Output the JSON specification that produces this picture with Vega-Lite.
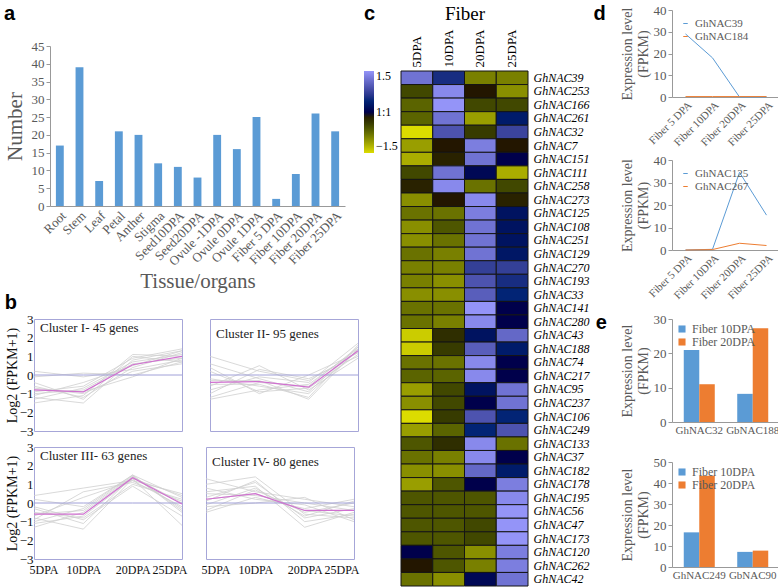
{
"$schema": "https://vega.github.io/schema/vega-lite/v6.json",
"padding": {"left": 3, "top": 3, "right": 3, "bottom": 3},
"background": "white",
"config": {
  "font": "Liberation Serif",
  "view": {"stroke": null},
  "axis": {"labelFont": "Liberation Serif", "titleFont": "Liberation Serif", "titleFontWeight": "normal", "grid": false, "labelColor": "#595959", "titleColor": "#595959", "domainColor": "#999999", "tickColor": "#999999"},
  "legend": {"labelFont": "Liberation Serif", "labelColor": "#595959"},
  "title": {"font": "Liberation Sans", "fontSize": 20, "fontWeight": "bold", "anchor": "start", "frame": "bounds", "color": "#000000"}
},
"datasets": {
  "tissue": [
    {"tissue": "Root", "n": 17}, {"tissue": "Stem", "n": 39}, {"tissue": "Leaf", "n": 7}, {"tissue": "Petal", "n": 21},
    {"tissue": "Anther", "n": 20}, {"tissue": "Stigma", "n": 12}, {"tissue": "Seed10DPA", "n": 11}, {"tissue": "Seed20DPA", "n": 8},
    {"tissue": "Ovule -1DPA", "n": 20}, {"tissue": "Ovule 0DPA", "n": 16}, {"tissue": "Ovule 1DPA", "n": 25}, {"tissue": "Fiber 5 DPA", "n": 2},
    {"tissue": "Fiber 10DPA", "n": 9}, {"tissue": "Fiber 20DPA", "n": 26}, {"tissue": "Fiber 25DPA", "n": 21}
  ],
  "clusters": [
    {"c": "I", "g": "1", "5DPA": 0.2, "10DPA": -0.1, "20DPA": 0.3, "25DPA": 0.8},
    {"c": "I", "g": "2", "5DPA": -0.1, "10DPA": 0.1, "20DPA": 0.0, "25DPA": 0.7},
    {"c": "I", "g": "3", "5DPA": -1.5, "10DPA": -1.1, "20DPA": 1.1, "25DPA": 1.0},
    {"c": "I", "g": "4", "5DPA": -1.2, "10DPA": -1.5, "20DPA": 0.8, "25DPA": 1.3},
    {"c": "I", "g": "5", "5DPA": -0.9, "10DPA": -0.6, "20DPA": 0.9, "25DPA": 1.4},
    {"c": "I", "g": "6", "5DPA": -0.6, "10DPA": -1.2, "20DPA": 0.4, "25DPA": 1.2},
    {"c": "I", "g": "7", "5DPA": -1.0, "10DPA": -0.8, "20DPA": 0.6, "25DPA": 0.9},
    {"c": "I", "g": "8", "5DPA": -0.7, "10DPA": -1.0, "20DPA": 0.2, "25DPA": 0.6},
    {"c": "I", "g": "9", "5DPA": -1.3, "10DPA": -0.7, "20DPA": 0.7, "25DPA": 1.1},
    {"c": "I", "g": "10", "5DPA": -0.4, "10DPA": -1.3, "20DPA": 1.0, "25DPA": 0.7},
    {"c": "I", "g": "11", "5DPA": -1.1, "10DPA": -0.4, "20DPA": 0.5, "25DPA": 1.3},
    {"c": "I", "g": "12", "5DPA": -0.8, "10DPA": -0.9, "20DPA": -0.1, "25DPA": 0.9},
    {"c": "I", "g": "zero", "5DPA": 0, "10DPA": 0, "20DPA": 0, "25DPA": 0},
    {"c": "I", "g": "mean", "5DPA": -0.8, "10DPA": -0.9, "20DPA": 0.55, "25DPA": 1.0},
    {"c": "II", "g": "1", "5DPA": 1.0, "10DPA": 0.2, "20DPA": -0.3, "25DPA": 1.2},
    {"c": "II", "g": "2", "5DPA": 0.6, "10DPA": -0.2, "20DPA": -0.9, "25DPA": 1.5},
    {"c": "II", "g": "3", "5DPA": -1.3, "10DPA": -0.8, "20DPA": -0.5, "25DPA": 1.4},
    {"c": "II", "g": "4", "5DPA": -1.0, "10DPA": 0.3, "20DPA": -0.2, "25DPA": 1.0},
    {"c": "II", "g": "5", "5DPA": -0.5, "10DPA": -0.5, "20DPA": -1.2, "25DPA": 1.6},
    {"c": "II", "g": "6", "5DPA": 0.2, "10DPA": -0.9, "20DPA": -0.7, "25DPA": 1.1},
    {"c": "II", "g": "7", "5DPA": -0.8, "10DPA": -0.1, "20DPA": -0.4, "25DPA": 1.7},
    {"c": "II", "g": "8", "5DPA": -0.2, "10DPA": -0.6, "20DPA": -1.0, "25DPA": 1.3},
    {"c": "II", "g": "9", "5DPA": -0.6, "10DPA": 0.5, "20DPA": -0.8, "25DPA": 0.9},
    {"c": "II", "g": "10", "5DPA": 0.4, "10DPA": -1.0, "20DPA": 0.0, "25DPA": 1.2},
    {"c": "II", "g": "11", "5DPA": -1.2, "10DPA": -0.4, "20DPA": -0.6, "25DPA": 1.5},
    {"c": "II", "g": "12", "5DPA": -0.3, "10DPA": -0.3, "20DPA": -1.3, "25DPA": 1.4},
    {"c": "II", "g": "zero", "5DPA": 0, "10DPA": 0, "20DPA": 0, "25DPA": 0},
    {"c": "II", "g": "mean", "5DPA": -0.4, "10DPA": -0.35, "20DPA": -0.65, "25DPA": 1.3},
    {"c": "III", "g": "1", "5DPA": 0.4, "10DPA": 0.8, "20DPA": 1.2, "25DPA": 0.5},
    {"c": "III", "g": "2", "5DPA": 0.2, "10DPA": -0.2, "20DPA": 1.5, "25DPA": 0.3},
    {"c": "III", "g": "3", "5DPA": -1.3, "10DPA": -0.5, "20DPA": 1.4, "25DPA": -0.3},
    {"c": "III", "g": "4", "5DPA": -0.8, "10DPA": -1.4, "20DPA": 1.3, "25DPA": -1.2},
    {"c": "III", "g": "5", "5DPA": -0.5, "10DPA": -0.8, "20DPA": 1.0, "25DPA": 0.2},
    {"c": "III", "g": "6", "5DPA": -1.0, "10DPA": -0.3, "20DPA": 1.5, "25DPA": -0.5},
    {"c": "III", "g": "7", "5DPA": -0.3, "10DPA": -1.1, "20DPA": 1.4, "25DPA": 0.0},
    {"c": "III", "g": "8", "5DPA": -0.7, "10DPA": 0.3, "20DPA": 1.2, "25DPA": -0.2},
    {"c": "III", "g": "9", "5DPA": -1.1, "10DPA": -0.7, "20DPA": 1.3, "25DPA": 0.4},
    {"c": "III", "g": "10", "5DPA": -0.2, "10DPA": -0.9, "20DPA": 0.9, "25DPA": -0.7},
    {"c": "III", "g": "11", "5DPA": -0.9, "10DPA": 0.6, "20DPA": 1.1, "25DPA": 0.1},
    {"c": "III", "g": "12", "5DPA": -0.6, "10DPA": -0.4, "20DPA": 1.45, "25DPA": -0.4},
    {"c": "III", "g": "zero", "5DPA": 0, "10DPA": 0, "20DPA": 0, "25DPA": 0},
    {"c": "III", "g": "mean", "5DPA": -0.6, "10DPA": -0.6, "20DPA": 1.35, "25DPA": -0.05},
    {"c": "IV", "g": "1", "5DPA": 1.3, "10DPA": 0.6, "20DPA": 0.2, "25DPA": -0.2},
    {"c": "IV", "g": "2", "5DPA": 1.0, "10DPA": 1.4, "20DPA": -0.6, "25DPA": -0.8},
    {"c": "IV", "g": "3", "5DPA": -0.5, "10DPA": 0.3, "20DPA": -0.3, "25DPA": 0.2},
    {"c": "IV", "g": "4", "5DPA": 0.6, "10DPA": 0.9, "20DPA": -1.3, "25DPA": -0.5},
    {"c": "IV", "g": "5", "5DPA": -0.2, "10DPA": 0.0, "20DPA": 0.3, "25DPA": -0.9},
    {"c": "IV", "g": "6", "5DPA": 0.3, "10DPA": 1.1, "20DPA": -0.8, "25DPA": -0.3},
    {"c": "IV", "g": "7", "5DPA": 0.8, "10DPA": 0.2, "20DPA": -0.1, "25DPA": -1.0},
    {"c": "IV", "g": "8", "5DPA": -0.4, "10DPA": 0.7, "20DPA": -0.5, "25DPA": 0.0},
    {"c": "IV", "g": "9", "5DPA": 0.1, "10DPA": 1.2, "20DPA": -1.0, "25DPA": -0.6},
    {"c": "IV", "g": "10", "5DPA": 0.5, "10DPA": 0.4, "20DPA": 0.0, "25DPA": -0.4},
    {"c": "IV", "g": "11", "5DPA": -0.1, "10DPA": 0.8, "20DPA": -0.7, "25DPA": 0.1},
    {"c": "IV", "g": "12", "5DPA": 0.2, "10DPA": 0.5, "20DPA": -0.4, "25DPA": -0.7},
    {"c": "IV", "g": "zero", "5DPA": 0, "10DPA": 0, "20DPA": 0, "25DPA": 0},
    {"c": "IV", "g": "mean", "5DPA": 0.2, "10DPA": 0.5, "20DPA": -0.4, "25DPA": -0.4}
  ],
  "heat": [
    {"g": "GhNAC39", "5DPA": 1.2, "10DPA": 0.5, "20DPA": -0.9, "25DPA": -0.9},
    {"g": "GhNAC253", "5DPA": -0.5, "10DPA": 1.4, "20DPA": -0.1, "25DPA": -1.0},
    {"g": "GhNAC166", "5DPA": -0.7, "10DPA": 1.5, "20DPA": -0.5, "25DPA": -0.5},
    {"g": "GhNAC261", "5DPA": -0.7, "10DPA": 1.2, "20DPA": -1.1, "25DPA": 0.3},
    {"g": "GhNAC32", "5DPA": -1.5, "10DPA": 0.9, "20DPA": -0.4, "25DPA": 0.75},
    {"g": "GhNAC7", "5DPA": -1.1, "10DPA": -0.1, "20DPA": 1.3, "25DPA": -0.1},
    {"g": "GhNAC151", "5DPA": -1.2, "10DPA": -0.2, "20DPA": 1.2, "25DPA": 0.0},
    {"g": "GhNAC111", "5DPA": -0.5, "10DPA": 1.2, "20DPA": 0.1, "25DPA": -1.2},
    {"g": "GhNAC258", "5DPA": -0.2, "10DPA": 1.4, "20DPA": -0.8, "25DPA": -0.5},
    {"g": "GhNAC273", "5DPA": -1.0, "10DPA": -0.1, "20DPA": 1.4, "25DPA": -0.2},
    {"g": "GhNAC125", "5DPA": -0.8, "10DPA": -0.8, "20DPA": 1.3, "25DPA": 0.2},
    {"g": "GhNAC108", "5DPA": -1.0, "10DPA": -0.6, "20DPA": 1.2, "25DPA": 0.2},
    {"g": "GhNAC251", "5DPA": -1.0, "10DPA": -0.8, "20DPA": 1.2, "25DPA": 0.2},
    {"g": "GhNAC129", "5DPA": -0.8, "10DPA": -0.9, "20DPA": 1.2, "25DPA": 0.25},
    {"g": "GhNAC270", "5DPA": -0.9, "10DPA": -0.9, "20DPA": 0.7, "25DPA": 0.7},
    {"g": "GhNAC193", "5DPA": -0.9, "10DPA": -1.0, "20DPA": 0.9, "25DPA": 0.5},
    {"g": "GhNAC33", "5DPA": -1.0, "10DPA": -1.0, "20DPA": 1.0, "25DPA": 0.4},
    {"g": "GhNAC141", "5DPA": -0.8, "10DPA": -0.8, "20DPA": 1.5, "25DPA": 0.0},
    {"g": "GhNAC280", "5DPA": -0.8, "10DPA": -0.9, "20DPA": 1.4, "25DPA": 0.0},
    {"g": "GhNAC43", "5DPA": -1.4, "10DPA": -0.3, "20DPA": 0.2, "25DPA": 1.1},
    {"g": "GhNAC188", "5DPA": -1.4, "10DPA": -0.4, "20DPA": 1.0, "25DPA": 0.3},
    {"g": "GhNAC74", "5DPA": -0.8, "10DPA": -0.8, "20DPA": 1.4, "25DPA": 0.0},
    {"g": "GhNAC217", "5DPA": -0.7, "10DPA": -0.7, "20DPA": 1.4, "25DPA": 0.0},
    {"g": "GhNAC95", "5DPA": -1.1, "10DPA": -0.5, "20DPA": 0.2, "25DPA": 1.2},
    {"g": "GhNAC237", "5DPA": -1.0, "10DPA": -0.5, "20DPA": 0.0, "25DPA": 1.2},
    {"g": "GhNAC106", "5DPA": -1.5, "10DPA": -0.4, "20DPA": 0.9, "25DPA": 0.4},
    {"g": "GhNAC249", "5DPA": -1.1, "10DPA": -0.7, "20DPA": 0.4, "25DPA": 0.9},
    {"g": "GhNAC133", "5DPA": -0.6, "10DPA": -0.3, "20DPA": 1.4, "25DPA": -0.8},
    {"g": "GhNAC37", "5DPA": -0.8, "10DPA": -0.9, "20DPA": 1.4, "25DPA": 0.0},
    {"g": "GhNAC182", "5DPA": -1.0, "10DPA": -1.0, "20DPA": 1.1, "25DPA": 0.3},
    {"g": "GhNAC178", "5DPA": -1.1, "10DPA": -0.6, "20DPA": 0.0, "25DPA": 1.3},
    {"g": "GhNAC195", "5DPA": -0.6, "10DPA": -0.6, "20DPA": -0.6, "25DPA": 1.4},
    {"g": "GhNAC56", "5DPA": -0.6, "10DPA": -0.6, "20DPA": -0.6, "25DPA": 1.5},
    {"g": "GhNAC47", "5DPA": -0.6, "10DPA": -0.6, "20DPA": -0.5, "25DPA": 1.5},
    {"g": "GhNAC173", "5DPA": -0.6, "10DPA": -0.6, "20DPA": -0.5, "25DPA": 1.5},
    {"g": "GhNAC120", "5DPA": 0.0, "10DPA": -0.6, "20DPA": -1.0, "25DPA": 1.3},
    {"g": "GhNAC262", "5DPA": -0.1, "10DPA": -0.6, "20DPA": -0.9, "25DPA": 1.3},
    {"g": "GhNAC42", "5DPA": -0.8, "10DPA": -1.0, "20DPA": 0.1, "25DPA": 1.2}
  ],
  "d1": [
    {"gene": "GhNAC39", "s": "Fiber 5 DPA", "v": 29}, {"gene": "GhNAC39", "s": "Fiber 10DPA", "v": 18},
    {"gene": "GhNAC39", "s": "Fiber 20DPA", "v": 0}, {"gene": "GhNAC39", "s": "Fiber 25DPA", "v": 0},
    {"gene": "GhNAC184", "s": "Fiber 5 DPA", "v": 0.2}, {"gene": "GhNAC184", "s": "Fiber 10DPA", "v": 0.2},
    {"gene": "GhNAC184", "s": "Fiber 20DPA", "v": 0.2}, {"gene": "GhNAC184", "s": "Fiber 25DPA", "v": 0.2}
  ],
  "d2": [
    {"gene": "GhNAC125", "s": "Fiber 5 DPA", "v": 0}, {"gene": "GhNAC125", "s": "Fiber 10DPA", "v": 0.3},
    {"gene": "GhNAC125", "s": "Fiber 20DPA", "v": 34.5}, {"gene": "GhNAC125", "s": "Fiber 25DPA", "v": 15.5},
    {"gene": "GhNAC267", "s": "Fiber 5 DPA", "v": 0}, {"gene": "GhNAC267", "s": "Fiber 10DPA", "v": 0.2},
    {"gene": "GhNAC267", "s": "Fiber 20DPA", "v": 3}, {"gene": "GhNAC267", "s": "Fiber 25DPA", "v": 2}
  ],
  "e1": [
    {"gene": "GhNAC32", "stage": "Fiber 10DPA", "v": 21}, {"gene": "GhNAC32", "stage": "Fiber 20DPA", "v": 11},
    {"gene": "GbNAC188", "stage": "Fiber 10DPA", "v": 8.2}, {"gene": "GbNAC188", "stage": "Fiber 20DPA", "v": 27.3}
  ],
  "e2": [
    {"gene": "GhNAC249", "stage": "Fiber 10DPA", "v": 16.5}, {"gene": "GhNAC249", "stage": "Fiber 20DPA", "v": 43.5},
    {"gene": "GbNAC90", "stage": "Fiber 10DPA", "v": 7.2}, {"gene": "GbNAC90", "stage": "Fiber 20DPA", "v": 7.8}
  ]
},
"resolve": {"scale": {"color": "independent", "xOffset": "independent"}, "legend": {"color": "independent"}},
"spacing": 3,
"hconcat": [
  {
    "resolve": {"scale": {"color": "independent"}, "legend": {"color": "independent"}},
    "spacing": 0,
    "vconcat": [
      {"width": 1, "height": 1, "data": {"values": []}, "mark": {"type": "point", "opacity": 0}},
      {
        "spacing": 0,
        "hconcat": [
          {"width": 1, "height": 1, "data": {"values": []}, "mark": {"type": "point", "opacity": 0}},
          {
            "title": {"text": "a", "offset": 16},
            "width": 295, "height": 160,
            "data": {"name": "tissue"},
            "mark": {"type": "bar", "color": "#5B9BD5"},
            "encoding": {
              "x": {"field": "tissue", "type": "nominal", "sort": null, "title": "Tissue/organs",
                    "scale": {"paddingInner": 0.6, "paddingOuter": 0.3},
                    "axis": {"labelAngle": -45, "labelFontSize": 13, "titleFontSize": 21, "ticks": false, "labelPadding": 3, "titlePadding": 2}},
              "y": {"field": "n", "type": "quantitative", "scale": {"domain": [0, 45]}, "title": "Number",
                    "axis": {"values": [0, 5, 10, 15, 20, 25, 30, 35, 40, 45], "titleFontSize": 21, "labelFontSize": 13, "tickSize": 4, "titlePadding": 6, "labelOverlap": false}}
            }
          }
        ]
      },
      {
        "spacing": 0,
        "hconcat": [
          {"width": 1, "height": 1, "data": {"values": []}, "mark": {"type": "point", "opacity": 0}},
          {
            "title": {"text": "b", "offset": 0},
            "spacing": 1,
            "vconcat": [
              {
                "spacing": 22,
                "hconcat": [
                  {
                    "width": 148, "height": 112,
                    "view": {"stroke": "#a6a6d8"},
                    "title": {"text": "Cluster I- 45 genes", "anchor": "start", "frame": "group", "offset": -22, "dx": 6, "font": "Liberation Serif", "fontSize": 13, "fontWeight": "normal", "color": "#222222"},
                    "data": {"name": "clusters"},
                    "transform": [{"filter": "datum.c=='I'"}, {"fold": ["5DPA", "10DPA", "20DPA", "25DPA"], "as": ["s", "v"]}],
                    "encoding": {
                      "x": {"field": "s", "type": "ordinal", "sort": ["5DPA", "10DPA", "20DPA", "25DPA"], "scale": {"type": "point", "padding": 0}, "axis": null},
                      "y": {"field": "v", "type": "quantitative", "scale": {"domain": [-3, 3]}, "axis": {"values": [-3, -2, -1, 0, 1, 2, 3], "title": "Log2 (FPKM+1)", "titleFontSize": 14, "titleColor": "#111111", "labelColor": "#111111", "labelFontSize": 13, "domain": false, "ticks": false, "labelPadding": 1, "titlePadding": 0, "minExtent": 0, "labelOverlap": false}}
                    },
                    "layer": [
                      {"transform": [{"filter": "datum.g!='mean' && datum.g!='zero'"}], "mark": {"type": "line", "color": "#cfcfcf", "strokeWidth": 0.8}, "encoding": {"detail": {"field": "g"}}},
                      {"transform": [{"filter": "datum.g=='zero'"}], "mark": {"type": "line", "color": "#a0a0d8", "strokeWidth": 1}, "encoding": {}},
                      {"transform": [{"filter": "datum.g=='mean'"}], "mark": {"type": "line", "color": "#d070d0", "strokeWidth": 1.2}, "encoding": {}}
                    ]
                  },
                  {
                    "width": 148, "height": 112,
                    "view": {"stroke": "#a6a6d8"},
                    "title": {"text": "Cluster II- 95 genes", "anchor": "start", "frame": "group", "offset": -22, "dx": 6, "font": "Liberation Serif", "fontSize": 13, "fontWeight": "normal", "color": "#222222"},
                    "data": {"name": "clusters"},
                    "transform": [{"filter": "datum.c=='II'"}, {"fold": ["5DPA", "10DPA", "20DPA", "25DPA"], "as": ["s", "v"]}],
                    "encoding": {
                      "x": {"field": "s", "type": "ordinal", "sort": ["5DPA", "10DPA", "20DPA", "25DPA"], "scale": {"type": "point", "padding": 0}, "axis": null},
                      "y": {"field": "v", "type": "quantitative", "scale": {"domain": [-3, 3]}, "axis": null}
                    },
                    "layer": [
                      {"transform": [{"filter": "datum.g!='mean' && datum.g!='zero'"}], "mark": {"type": "line", "color": "#cfcfcf", "strokeWidth": 0.8}, "encoding": {"detail": {"field": "g"}}},
                      {"transform": [{"filter": "datum.g=='zero'"}], "mark": {"type": "line", "color": "#a0a0d8", "strokeWidth": 1}, "encoding": {}},
                      {"transform": [{"filter": "datum.g=='mean'"}], "mark": {"type": "line", "color": "#d070d0", "strokeWidth": 1.2}, "encoding": {}}
                    ]
                  }
                ]
              },
              {
                "spacing": 12,
                "hconcat": [
                  {
                    "width": 148, "height": 112,
                    "view": {"stroke": "#a6a6d8"},
                    "title": {"text": "Cluster III- 63 genes", "anchor": "start", "frame": "group", "offset": -22, "dx": 6, "font": "Liberation Serif", "fontSize": 13, "fontWeight": "normal", "color": "#222222"},
                    "data": {"name": "clusters"},
                    "transform": [{"filter": "datum.c=='III'"}, {"fold": ["5DPA", "10DPA", "20DPA", "25DPA"], "as": ["s", "v"]}],
                    "encoding": {
                      "x": {"field": "s", "type": "ordinal", "sort": ["5DPA", "10DPA", "20DPA", "25DPA"], "scale": {"type": "point", "padding": 0}, "axis": {"title": null, "domain": false, "ticks": false, "labelAngle": 0, "labelFontSize": 12, "labelColor": "#111111", "labelPadding": 5, "labelFlush": true, "labelFlushOffset": 5}},
                      "y": {"field": "v", "type": "quantitative", "scale": {"domain": [-3, 3]}, "axis": {"values": [-3, -2, -1, 0, 1, 2, 3], "title": "Log2 (FPKM+1)", "titleFontSize": 14, "titleColor": "#111111", "labelColor": "#111111", "labelFontSize": 13, "domain": false, "ticks": false, "labelPadding": 1, "titlePadding": 0, "minExtent": 0, "labelOverlap": false}}
                    },
                    "layer": [
                      {"transform": [{"filter": "datum.g!='mean' && datum.g!='zero'"}], "mark": {"type": "line", "color": "#cfcfcf", "strokeWidth": 0.8}, "encoding": {"detail": {"field": "g"}}},
                      {"transform": [{"filter": "datum.g=='zero'"}], "mark": {"type": "line", "color": "#a0a0d8", "strokeWidth": 1}, "encoding": {}},
                      {"transform": [{"filter": "datum.g=='mean'"}], "mark": {"type": "line", "color": "#d070d0", "strokeWidth": 1.2}, "encoding": {}}
                    ]
                  },
                  {
                    "width": 148, "height": 112,
                    "view": {"stroke": "#a6a6d8"},
                    "title": {"text": "Cluster IV- 80 genes", "anchor": "start", "frame": "group", "offset": -22, "dx": 6, "font": "Liberation Serif", "fontSize": 13, "fontWeight": "normal", "color": "#222222"},
                    "data": {"name": "clusters"},
                    "transform": [{"filter": "datum.c=='IV'"}, {"fold": ["5DPA", "10DPA", "20DPA", "25DPA"], "as": ["s", "v"]}],
                    "encoding": {
                      "x": {"field": "s", "type": "ordinal", "sort": ["5DPA", "10DPA", "20DPA", "25DPA"], "scale": {"type": "point", "padding": 0}, "axis": {"title": null, "domain": false, "ticks": false, "labelAngle": 0, "labelFontSize": 12, "labelColor": "#111111", "labelPadding": 5, "labelFlush": true, "labelFlushOffset": 5}},
                      "y": {"field": "v", "type": "quantitative", "scale": {"domain": [-3, 3]}, "axis": null}
                    },
                    "layer": [
                      {"transform": [{"filter": "datum.g!='mean' && datum.g!='zero'"}], "mark": {"type": "line", "color": "#cfcfcf", "strokeWidth": 0.8}, "encoding": {"detail": {"field": "g"}}},
                      {"transform": [{"filter": "datum.g=='zero'"}], "mark": {"type": "line", "color": "#a0a0d8", "strokeWidth": 1}, "encoding": {}},
                      {"transform": [{"filter": "datum.g=='mean'"}], "mark": {"type": "line", "color": "#d070d0", "strokeWidth": 1.2}, "encoding": {}}
                    ]
                  }
                ]
              }
            ]
          }
        ]
      }
    ]
  },
  {
    "resolve": {"scale": {"color": "independent"}, "legend": {"color": "independent"}},
    "spacing": 0,
    "vconcat": [
      {"width": 1, "height": 1, "data": {"values": []}, "mark": {"type": "point", "opacity": 0}},
      {
        "title": {"text": "c", "offset": -20},
        "width": 127, "height": 515,
        "data": {"name": "heat"},
        "transform": [{"fold": ["5DPA", "10DPA", "20DPA", "25DPA"], "as": ["s", "v"]}],
        "mark": {"type": "rect", "stroke": "#151515", "strokeWidth": 1},
        "encoding": {
          "x": {"field": "s", "type": "ordinal", "sort": ["5DPA", "10DPA", "20DPA", "25DPA"], "scale": {"paddingInner": 0, "paddingOuter": 0},
                "axis": {"orient": "top", "labelAngle": -90, "title": "Fiber", "titleFontSize": 19, "titleColor": "#000000", "labelColor": "#000000", "labelFontSize": 13, "ticks": false, "domain": false, "labelPadding": 4, "titlePadding": 6}},
          "y": {"field": "g", "type": "nominal", "sort": null,
                "axis": {"orient": "right", "title": null, "ticks": false, "domain": false, "labelFontStyle": "italic", "labelFontSize": 12, "labelColor": "#000000", "labelPadding": 5}},
          "color": {"field": "v", "type": "quantitative", "scale": {"domain": [-1.5, 0, 1.5], "range": ["#dcdc00", "#000000", "#9494f8"], "clamp": true},
                    "legend": {"orient": "left", "title": null, "gradientLength": 82, "gradientThickness": 10, "values": [-1.5, 0, 1.5], "format": ".1f", "labelExpr": "datum.value == 0 ? '1:1' : datum.label", "labelFontSize": 12, "labelColor": "#000000", "offset": 3}}
        }
      }
    ]
  },
  {
    "resolve": {"scale": {"color": "independent", "xOffset": "independent"}, "legend": {"color": "independent"}},
    "spacing": 0,
    "vconcat": [
      {"width": 1, "height": 1, "data": {"values": []}, "mark": {"type": "point", "opacity": 0}},
      {
        "resolve": {"scale": {"color": "independent", "xOffset": "independent"}, "legend": {"color": "independent"}},
        "spacing": 12,
        "vconcat": [
          {
            "title": {"text": "d", "orient": "left", "anchor": "end", "angle": 0, "baseline": "top", "align": "right", "offset": 2},
            "resolve": {"scale": {"color": "independent"}, "legend": {"color": "independent"}},
            "spacing": 6,
            "vconcat": [
              {
                "width": 108, "height": 87,
                "data": {"name": "d1"},
                "mark": {"type": "line", "strokeWidth": 1},
                "encoding": {
                  "x": {"field": "s", "type": "ordinal", "sort": null, "scale": {"type": "point", "padding": 0.5}, "axis": {"title": null, "labelAngle": -45, "labelFontSize": 11, "ticks": false}},
                  "y": {"field": "v", "type": "quantitative", "scale": {"domain": [0, 40]}, "axis": {"values": [0, 10, 20, 30, 40], "title": ["Expression level", "(FPKM)"], "titleFontSize": 14, "labelFontSize": 13, "tickSize": 4, "titlePadding": 3, "minExtent": 0}},
                  "color": {"field": "gene", "type": "nominal", "sort": null, "scale": {"range": ["#5B9BD5", "#ED7D31"]},
                            "legend": {"orient": "top-left", "title": null, "symbolType": "stroke", "symbolSize": 20, "symbolStrokeWidth": 1, "labelFontSize": 11, "offset": 8, "rowPadding": 1, "padding": 0}}
                }
              },
              {
                "width": 108, "height": 90,
                "data": {"name": "d2"},
                "mark": {"type": "line", "strokeWidth": 1},
                "encoding": {
                  "x": {"field": "s", "type": "ordinal", "sort": null, "scale": {"type": "point", "padding": 0.5}, "axis": {"title": null, "labelAngle": -45, "labelFontSize": 11, "ticks": false}},
                  "y": {"field": "v", "type": "quantitative", "scale": {"domain": [0, 40]}, "axis": {"values": [0, 10, 20, 30, 40], "title": ["Expression level", "(FPKM)"], "titleFontSize": 14, "labelFontSize": 13, "tickSize": 4, "titlePadding": 3, "minExtent": 0}},
                  "color": {"field": "gene", "type": "nominal", "sort": null, "scale": {"range": ["#5B9BD5", "#ED7D31"]},
                            "legend": {"orient": "top-left", "title": null, "symbolType": "stroke", "symbolSize": 20, "symbolStrokeWidth": 1, "labelFontSize": 11, "offset": 8, "rowPadding": 1, "padding": 0}}
                }
              }
            ]
          },
          {
            "title": {"text": "e", "orient": "left", "anchor": "end", "angle": 0, "baseline": "top", "align": "right", "offset": 2},
            "resolve": {"scale": {"color": "independent", "xOffset": "independent"}, "legend": {"color": "independent"}},
            "spacing": 21,
            "vconcat": [
              {
                "width": 108, "height": 103,
                "data": {"name": "e1"},
                "mark": {"type": "bar"},
                "encoding": {
                  "x": {"field": "gene", "type": "nominal", "sort": null, "scale": {"paddingInner": 0.42, "paddingOuter": 0.22}, "axis": {"title": null, "labelAngle": 0, "labelFontSize": 11, "ticks": false}},
                  "xOffset": {"field": "stage", "type": "nominal", "sort": null},
                  "y": {"field": "v", "type": "quantitative", "scale": {"domain": [0, 30]}, "axis": {"values": [0, 10, 20, 30], "title": ["Expression level", "(FPKM)"], "titleFontSize": 14, "labelFontSize": 13, "tickSize": 4, "titlePadding": 3, "minExtent": 0}},
                  "color": {"field": "stage", "type": "nominal", "sort": null, "scale": {"range": ["#5B9BD5", "#ED7D31"]},
                            "legend": {"orient": "top-left", "title": null, "symbolType": "square", "symbolSize": 50, "labelFontSize": 12, "offset": 4, "rowPadding": 1, "padding": 0}}
                }
              },
              {
                "width": 108, "height": 105,
                "data": {"name": "e2"},
                "mark": {"type": "bar"},
                "encoding": {
                  "x": {"field": "gene", "type": "nominal", "sort": null, "scale": {"paddingInner": 0.42, "paddingOuter": 0.22}, "axis": {"title": null, "labelAngle": 0, "labelFontSize": 11, "ticks": false}},
                  "xOffset": {"field": "stage", "type": "nominal", "sort": null},
                  "y": {"field": "v", "type": "quantitative", "scale": {"domain": [0, 50]}, "axis": {"values": [0, 10, 20, 30, 40, 50], "title": ["Expression level", "(FPKM)"], "titleFontSize": 14, "labelFontSize": 13, "tickSize": 4, "titlePadding": 3, "minExtent": 0}},
                  "color": {"field": "stage", "type": "nominal", "sort": null, "scale": {"range": ["#5B9BD5", "#ED7D31"]},
                            "legend": {"orient": "top-left", "title": null, "symbolType": "square", "symbolSize": 50, "labelFontSize": 12, "offset": 4, "rowPadding": 1, "padding": 0}}
                }
              }
            ]
          }
        ]
      }
    ]
  }
]
}
